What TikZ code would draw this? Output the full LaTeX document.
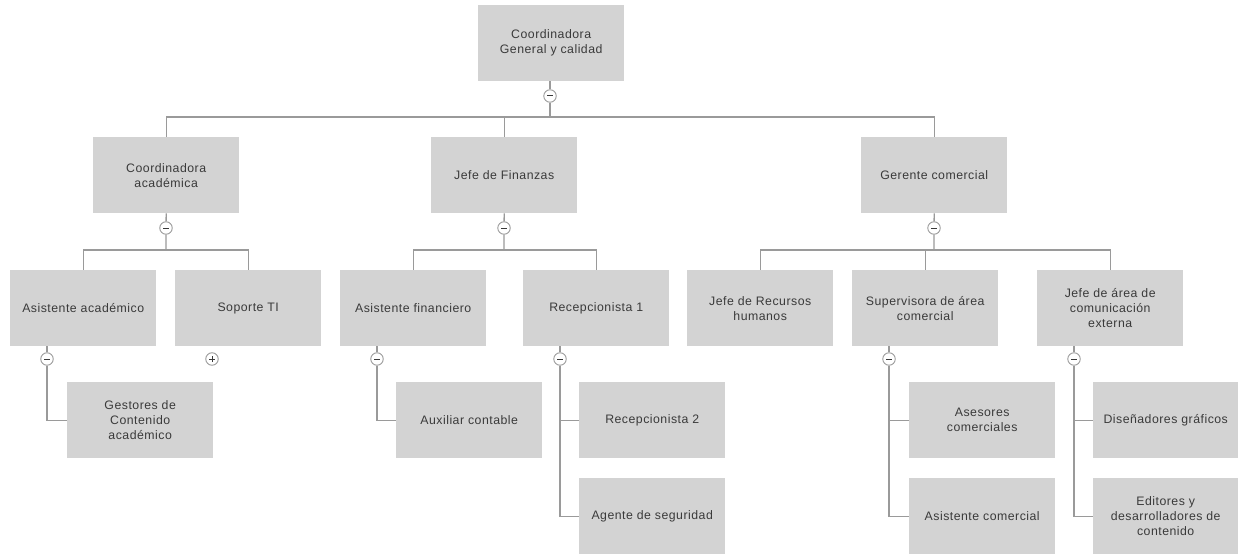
\documentclass[tikz,border=0pt]{standalone}
\usepackage{fontspec}
\setmainfont{Liberation Sans}[LetterSpace=4]
\usetikzlibrary{backgrounds}
\definecolor{boxgray}{HTML}{D3D3D3}
\definecolor{linegray}{HTML}{9A9A9A}
\definecolor{txt}{HTML}{3A3A3A}
\begin{document}
\begin{tikzpicture}[x=1pt,y=-1pt,
  box/.style={fill=boxgray, minimum width=146pt, minimum height=76pt, inner sep=2pt,
    align=center, text=txt, anchor=north west, font=\fontsize{12.3}{15}\selectfont},
  ln/.style={draw=linegray, line width=1.3pt},
  tog/.style={circle, draw=linegray, fill=white, line width=0.9pt, minimum size=12.5pt, inner sep=0pt},
  minus/.style={tog, path picture={\draw[txt, line width=1pt]
     ([xshift=-3pt]path picture bounding box.center) -- ([xshift=3pt]path picture bounding box.center);}},
  plus/.style={tog, path picture={\draw[txt, line width=1pt]
     ([xshift=-3pt]path picture bounding box.center) -- ([xshift=3pt]path picture bounding box.center)
     ([yshift=-3pt]path picture bounding box.center) -- ([yshift=3pt]path picture bounding box.center);}}
]
\useasboundingbox (0,0) rectangle (1238,556);

% level 1
\node[box] (t) at (478,5) {Coordinadora\\General y calidad};
% level 2
\node[box] (a) at (93,137) {Coordinadora\\académica};
\node[box] (f) at (431,137) {Jefe de Finanzas};
\node[box] (g) at (861,137) {Gerente comercial};
% level 3
\node[box] (aa) at (10,270) {Asistente académico};
\node[box] (st) at (175,270) {Soporte TI};
\node[box] (af) at (340,270) {Asistente financiero};
\node[box] (r1) at (523,270) {Recepcionista 1};
\node[box] (rh) at (687,270) {Jefe de Recursos\\humanos};
\node[box] (sv) at (852,270) {Supervisora de área\\comercial};
\node[box] (je) at (1037,270) {Jefe de área de\\comunicación\\externa};
% level 4
\node[box] (ge) at (67,382) {Gestores de\\Contenido\\académico};
\node[box] (ax) at (396,382) {Auxiliar contable};
\node[box] (r2) at (579,382) {Recepcionista 2};
\node[box] (ag) at (579,478) {Agente de seguridad};
\node[box] (as) at (909,382) {Asesores\\comerciales};
\node[box] (asc) at (909,478) {Asistente comercial};
\node[box, minimum width=145pt] (di) at (1093,382) {Diseñadores gráficos};
\node[box, minimum width=145pt] (ed) at (1093,478) {Editores y\\desarrolladores de\\contenido};

% toggles
\node[minus] (c0) at (550,96) {};
\node[minus] (ca) at (166,228) {};
\node[minus] (cf) at (504,228) {};
\node[minus] (cg) at (934,228) {};
\node[minus] (caa) at (47,359) {};
\node[plus] (cst) at (212,359) {};
\node[minus] (caf) at (377,359) {};
\node[minus] (cr1) at (560,359) {};
\node[minus] (csv) at (889,359) {};
\node[minus] (cje) at (1074,359) {};

\coordinate (j0) at (550,117);
\coordinate (ja) at (166,250);
\coordinate (jf) at (504,250);
\coordinate (jg) at (934,250);

\begin{scope}[on background layer]
  \draw[ln] (t.south -| c0) -- (c0) -- (j0);
  \draw[ln] (j0) -| (a.north);
  \draw[ln] (j0) -| (f.north);
  \draw[ln] (j0) -| (g.north);

  \draw[ln] (a.south) -- (ca) -- (ja);
  \draw[ln] (ja) -| (aa.north);
  \draw[ln] (ja) -| (st.north);

  \draw[ln] (f.south) -- (cf) -- (jf);
  \draw[ln] (jf) -| (af.north);
  \draw[ln] (jf) -| (r1.north);

  \draw[ln] (g.south) -- (cg) -- (jg);
  \draw[ln] (jg) -| (rh.north);
  \draw[ln] (jg) -| (sv.north);
  \draw[ln] (jg) -| (je.north);

  \draw[ln] (aa.south -| caa) -- (caa) |- (ge.west);
  \draw[ln] (af.south -| caf) -- (caf) |- (ax.west);
  \draw[ln] (r1.south -| cr1) -- (cr1) |- (r2.west);
  \draw[ln] (cr1) |- (ag.west);
  \draw[ln] (sv.south -| csv) -- (csv) |- (as.west);
  \draw[ln] (csv) |- (asc.west);
  \draw[ln] (je.south -| cje) -- (cje) |- (di.west);
  \draw[ln] (cje) |- (ed.west);
\end{scope}
\end{tikzpicture}
\end{document}
